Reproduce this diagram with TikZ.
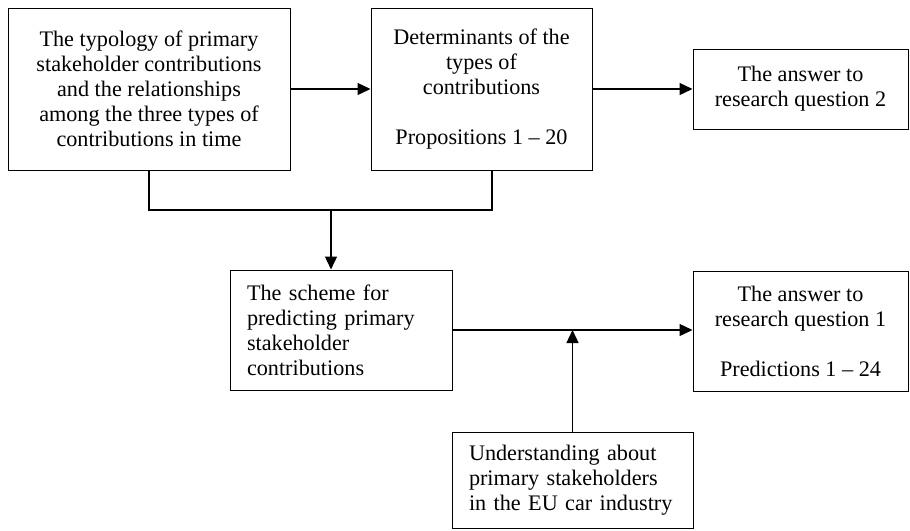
\documentclass[tikz,border=0pt]{standalone}
\usepackage{fontspec}
\setmainfont{Liberation Serif}
\usetikzlibrary{arrows.meta}
\begin{document}
\begin{tikzpicture}[x=1pt,y=-1pt,
  box/.style={draw, line width=1pt, inner sep=0pt, align=center,
              font=\fontsize{22.2}{25}\selectfont},
  lbox/.style={box, align=left},
  link/.style={line width=1.3pt},
  arr/.style={link, -{Triangle[length=13pt,width=12pt]}}]
\useasboundingbox (0,0) rectangle (910,530);

% boxes
\node[box, minimum width=282pt, minimum height=162pt] (typ) at (149,89)
  {The typology of primary\\stakeholder contributions\\and the relationships\\among the three types of\\contributions in time};
\node[box, minimum width=221pt, minimum height=162pt] (det) at (481.5,89)
  {Determinants of the\\types of\\contributions\\[25pt]Propositions 1 -- 20};
\node[box, minimum width=215pt, minimum height=80pt] (ans2) at (800.5,89)
  {The answer to\\research question 2};
\node[lbox, text width=188pt, minimum width=222pt, minimum height=120pt] (scheme) at (341,330)
  {The scheme for\\predicting primary\\stakeholder\\contributions};
\node[box, minimum width=215pt, minimum height=120pt] (ans1) at (800.5,331)
  {The answer to\\research question 1\\[25pt]Predictions 1 -- 24};
\node[lbox, text width=207pt, minimum width=241pt, minimum height=96pt] (under) at (572.5,480)
  {Understanding about\\primary stakeholders\\in the EU car industry};

% junction points
\coordinate (j1) at (331,210);
\coordinate (d1) at (492,210);
\coordinate (j2) at (572.5,330);

% connectors
\draw[arr] (typ.east) -- (det.west);
\draw[arr] (det.east) -- (ans2.west);
\draw[link] (typ.south) |- (d1) -- (d1 |- det.south);
\draw[arr] (j1) -- (j1 |- scheme.north);
\draw[arr] (scheme.east) -- (scheme.east -| ans1.west);
\draw[arr] (under.north) -- (j2);
\end{tikzpicture}
\end{document}
